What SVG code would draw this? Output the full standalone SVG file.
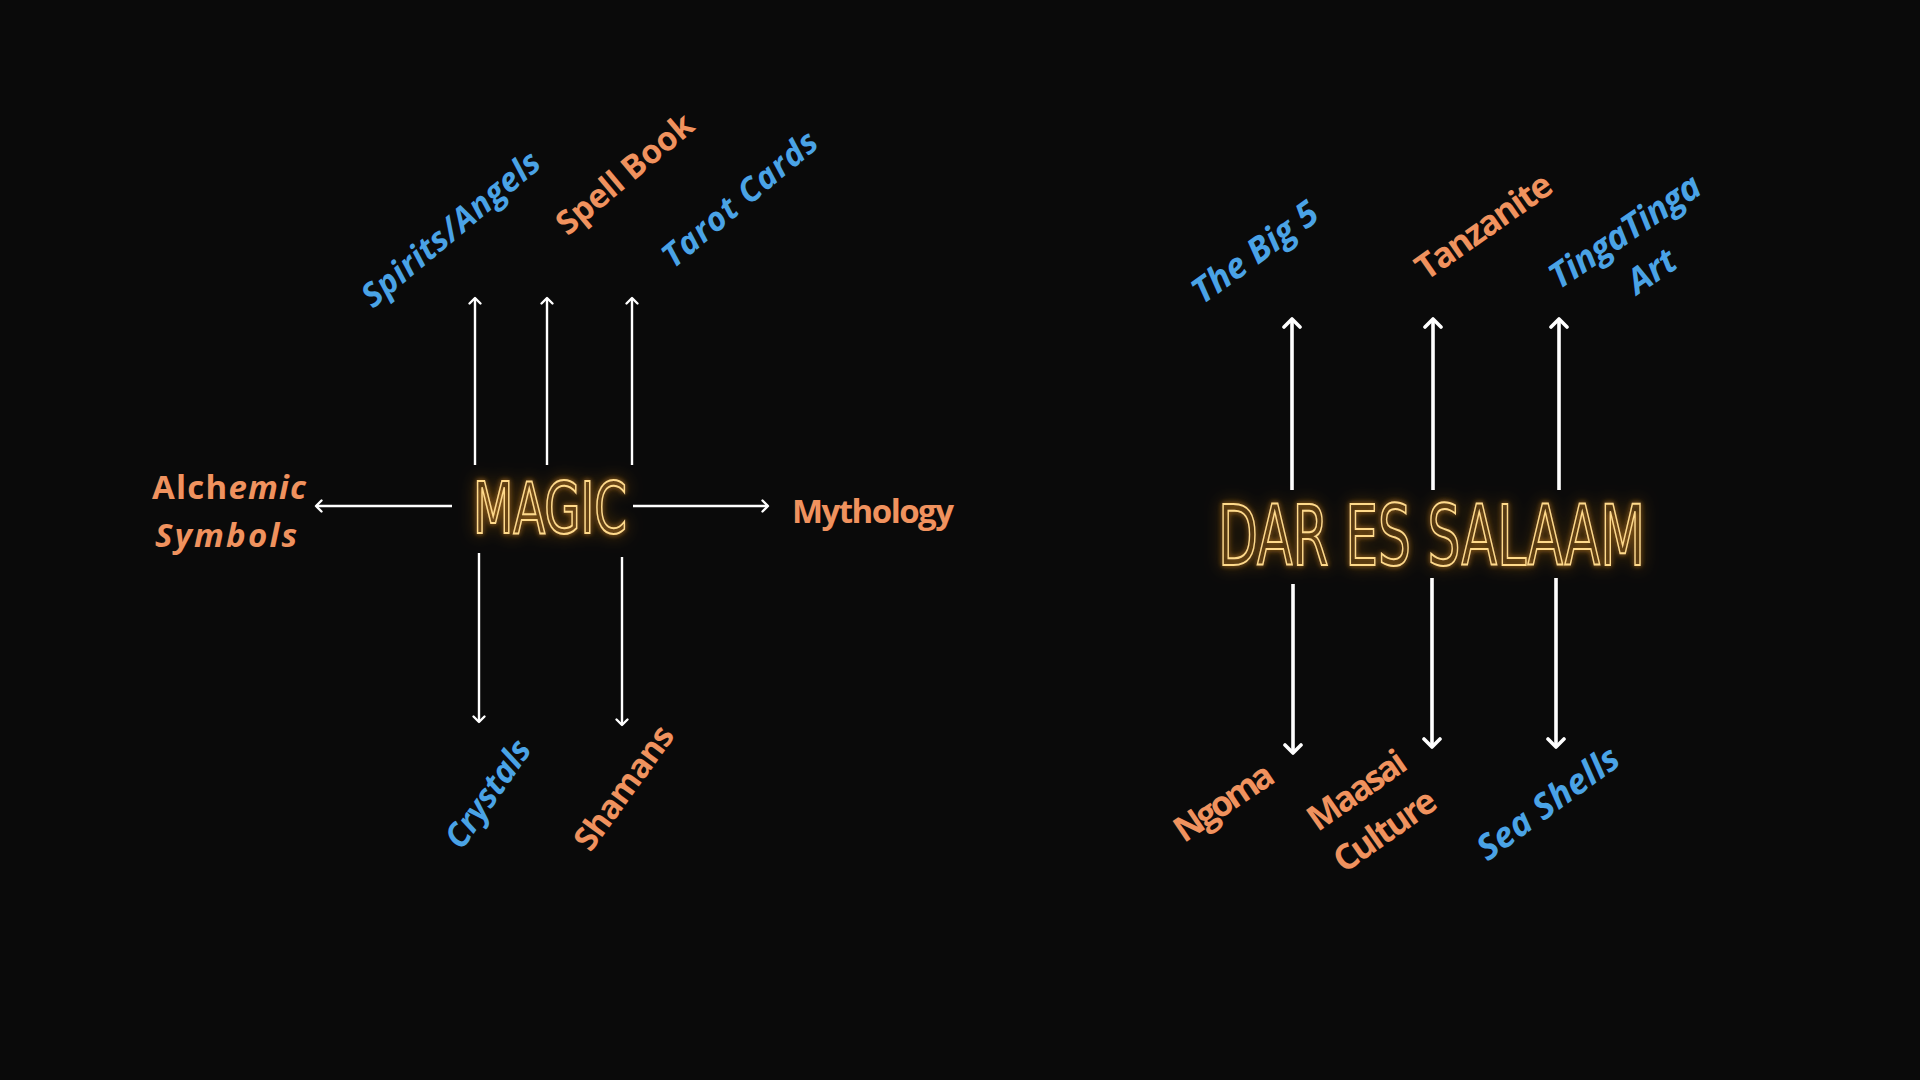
<svg xmlns="http://www.w3.org/2000/svg" width="1920" height="1080" viewBox="0 0 1920 1080">
  <style>
    .lbl { font-family: "Open Sans", "Liberation Sans", sans-serif; font-weight: 700; font-size: 33px; }
    .big { font-size: 35px; }
    .rot { text-anchor: middle; dominant-baseline: central; }
    .it { font-style: italic; }
    .blue { fill: #4aa3e6; }
    .orange { fill: #f0925e; }
    .neon { font-family: "DejaVu Sans Condensed", "DejaVu Sans", sans-serif; fill: none; stroke: #ffda8a; stroke-width: 2; }
    .thin { stroke: #ffffff; stroke-width: 2.4; fill: none; }
    .thick { stroke: #ffffff; stroke-width: 3.6; fill: none; }
  </style>
  <defs>
    <marker id="headS" viewBox="-8 -8 10 16" markerWidth="10" markerHeight="16" refX="0" refY="0" orient="auto" markerUnits="userSpaceOnUse">
      <path d="M-5.5,-5.5 L0,0 L-5.5,5.5" fill="none" stroke="#ffffff" stroke-width="2.4" stroke-linecap="round" stroke-linejoin="round"/>
    </marker>
    <marker id="headL" viewBox="-11 -11 13 22" markerWidth="13" markerHeight="22" refX="0" refY="0" orient="auto" markerUnits="userSpaceOnUse">
      <path d="M-8,-8 L0,0 L-8,8" fill="none" stroke="#ffffff" stroke-width="3.6" stroke-linecap="round" stroke-linejoin="round"/>
    </marker>
    <filter id="glow" x="-20%" y="-60%" width="140%" height="220%">
      <feGaussianBlur in="SourceAlpha" stdDeviation="2.5" result="b1"/>
      <feFlood flood-color="#ffa52a" flood-opacity="0.85"/>
      <feComposite in2="b1" operator="in" result="g1"/>
      <feGaussianBlur in="SourceAlpha" stdDeviation="8" result="b2"/>
      <feFlood flood-color="#ff9a1f" flood-opacity="0.7"/>
      <feComposite in2="b2" operator="in" result="g2"/>
      <feMerge>
        <feMergeNode in="g2"/>
        <feMergeNode in="g1"/>
        <feMergeNode in="SourceGraphic"/>
      </feMerge>
    </filter>
  </defs>

  <rect x="0" y="0" width="1920" height="1080" fill="#0a0a0a"/>

  <g id="connectors">
    <line class="thin" x1="475" y1="465" x2="475" y2="298" marker-end="url(#headS)"/>
    <line class="thin" x1="547" y1="465" x2="547" y2="298" marker-end="url(#headS)"/>
    <line class="thin" x1="632" y1="465" x2="632" y2="298" marker-end="url(#headS)"/>
    <line class="thin" x1="452" y1="506" x2="316" y2="506" marker-end="url(#headS)"/>
    <line class="thin" x1="633" y1="506" x2="768" y2="506" marker-end="url(#headS)"/>
    <line class="thin" x1="479" y1="553" x2="479" y2="722" marker-end="url(#headS)"/>
    <line class="thin" x1="622" y1="557" x2="622" y2="725" marker-end="url(#headS)"/>

    <line class="thick" x1="1292" y1="490" x2="1292" y2="319" marker-end="url(#headL)"/>
    <line class="thick" x1="1433" y1="490" x2="1433" y2="319" marker-end="url(#headL)"/>
    <line class="thick" x1="1559" y1="490" x2="1559" y2="319" marker-end="url(#headL)"/>
    <line class="thick" x1="1293" y1="584" x2="1293" y2="753" marker-end="url(#headL)"/>
    <line class="thick" x1="1432" y1="578" x2="1432" y2="747" marker-end="url(#headL)"/>
    <line class="thick" x1="1556" y1="578" x2="1556" y2="747" marker-end="url(#headL)"/>
  </g>

  <g id="magic" filter="url(#glow)">
    <text class="neon" x="473" y="533" font-size="72" textLength="154" lengthAdjust="spacingAndGlyphs">MAGIC</text>
  </g>
  <g id="dar-es-salaam" filter="url(#glow)">
    <text class="neon" x="1218" y="565" font-size="84" textLength="427" lengthAdjust="spacingAndGlyphs">DAR ES SALAAM</text>
  </g>

  <g id="spirits-angels" transform="translate(450,228) rotate(-40)">
    <text class="lbl rot it blue" x="0" y="0" textLength="222">Spirits/Angels</text>
  </g>
  <g id="spell-book" transform="translate(624,173) rotate(-40)">
    <text class="lbl rot orange" x="0" y="0" textLength="168">Spell Book</text>
  </g>
  <g id="tarot-cards" transform="translate(739,198) rotate(-40)">
    <text class="lbl rot it blue" x="0" y="0" textLength="192">Tarot Cards</text>
  </g>
  <g id="alchemic-symbols">
    <text class="lbl orange" x="152" y="499" font-size="34" textLength="154">Alch<tspan class="it">emic</tspan></text>
    <text class="lbl it orange" x="155" y="547" font-size="34" textLength="142">Symbols</text>
  </g>
  <g id="mythology">
    <text class="lbl orange" x="792" y="523" textLength="162">Mythology</text>
  </g>
  <g id="crystals" transform="translate(487,793) rotate(-55)">
    <text class="lbl rot it blue" x="0" y="0" textLength="124">Crystals</text>
  </g>
  <g id="shamans" transform="translate(623,787) rotate(-54)">
    <text class="lbl rot orange" x="0" y="0" textLength="145">Shamans</text>
  </g>

  <g id="the-big-5" transform="translate(1254,251) rotate(-36)">
    <text class="lbl big rot it blue" x="0" y="0" textLength="147">The Big 5</text>
  </g>
  <g id="tanzanite" transform="translate(1483,225) rotate(-35)">
    <text class="lbl big rot orange" x="0" y="0" textLength="158">Tanzanite</text>
  </g>
  <g id="tingatinga-art" transform="translate(1624,230) rotate(-34)">
    <text class="lbl big rot it blue" x="0" y="0" textLength="175">TingaTinga</text>
    <text class="lbl big rot it blue" x="0" y="48">Art</text>
  </g>
  <g id="ngoma" transform="translate(1223,801) rotate(-34)">
    <text class="lbl big rot orange" x="0" y="0" textLength="112">Ngoma</text>
  </g>
  <g id="maasai-culture" transform="translate(1356,789) rotate(-35)">
    <text class="lbl big rot orange" x="0" y="0" textLength="112">Maasai</text>
    <text class="lbl big rot orange" x="0" y="49" textLength="117">Culture</text>
  </g>
  <g id="sea-shells" transform="translate(1547,802) rotate(-36)">
    <text class="lbl big rot it blue" x="0" y="0" textLength="167">Sea Shells</text>
  </g>
</svg>
